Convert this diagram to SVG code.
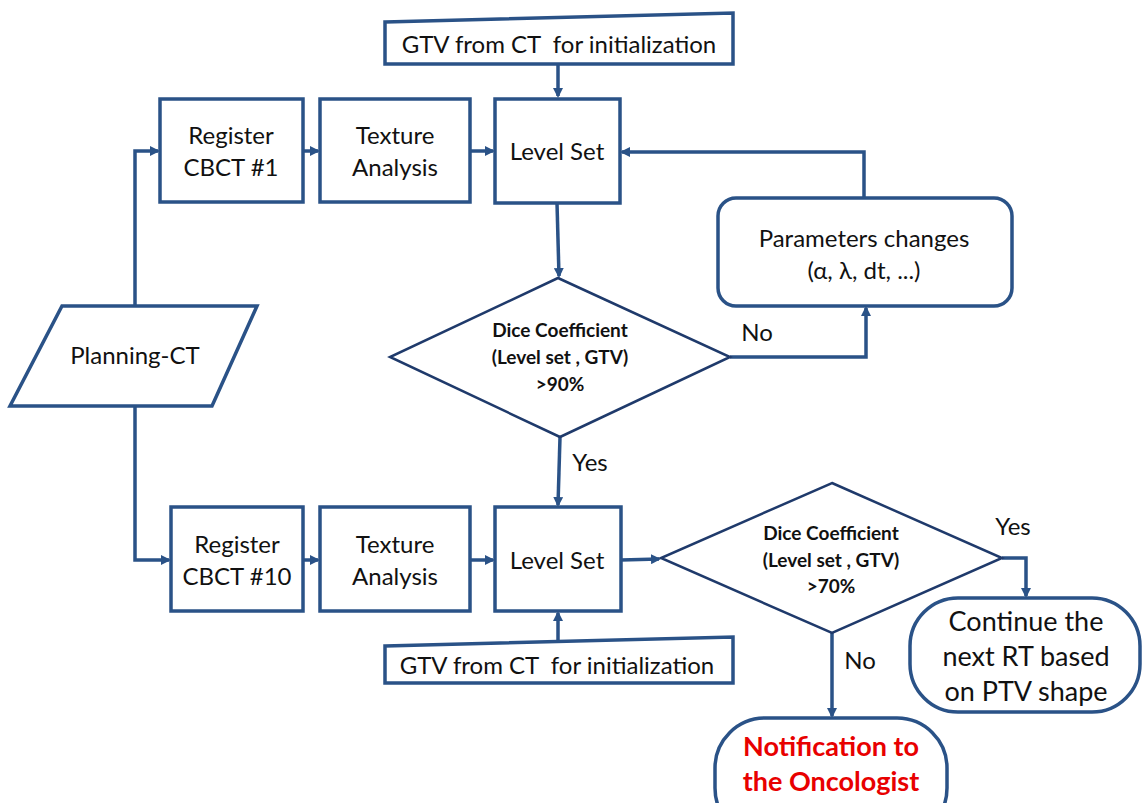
<svg xmlns="http://www.w3.org/2000/svg" width="1142" height="803" viewBox="0 0 1142 803">
<defs>
<style>
.box{fill:#fff;stroke:#2a5287;stroke-width:3.5}
.dia{fill:#fff;stroke:#1f3a6b;stroke-width:2.5}
.con{fill:none;stroke:#2a5287;stroke-width:3.5}
.t{font-family:Lato,"Open Sans",sans-serif;font-size:24px;fill:#111;text-anchor:middle;white-space:pre}
.d{font-family:Lato,"Open Sans",sans-serif;font-size:19px;font-weight:bold;fill:#111;text-anchor:middle}
.big{font-family:Lato,"Open Sans",sans-serif;font-size:27px;fill:#111;text-anchor:middle}
.red{font-family:Lato,"Open Sans",sans-serif;font-size:27px;font-weight:bold;fill:#e80000;text-anchor:middle}
</style>
<marker id="ah" markerWidth="10" markerHeight="10" refX="8" refY="5" orient="auto" markerUnits="userSpaceOnUse">
<path d="M0,0 L10,5 L0,10 z" fill="#2a5287"/>
</marker>
</defs>
<rect width="1142" height="803" fill="#fff"/>
<g id="connectors">
<path class="con" d="M558,65 L558,96" marker-end="url(#ah)"/>
<path class="con" d="M135,305 L135,151 L158,151" marker-end="url(#ah)"/>
<path class="con" d="M303,151 L318,151" marker-end="url(#ah)"/>
<path class="con" d="M470,151 L493,151" marker-end="url(#ah)"/>
<path class="con" d="M557,203 L559,276" marker-end="url(#ah)"/>
<path class="con" d="M730,357 L866,357 L866,308" marker-end="url(#ah)"/>
<path class="con" d="M864,198 L864,152 L622,152" marker-end="url(#ah)"/>
<path class="con" d="M560,437 L558,505" marker-end="url(#ah)"/>
<path class="con" d="M135,406 L135,560 L169,560" marker-end="url(#ah)"/>
<path class="con" d="M303,560 L318,560" marker-end="url(#ah)"/>
<path class="con" d="M470,560 L493,560" marker-end="url(#ah)"/>
<path class="con" d="M558,642 L558,613" marker-end="url(#ah)"/>
<path class="con" d="M621,560 L659,559" marker-end="url(#ah)"/>
<path class="con" d="M1002,558 L1026,558 L1026,596" marker-end="url(#ah)"/>
<path class="con" d="M832,633 L832,716" marker-end="url(#ah)"/>
<text class="t" x="757" y="341">No</text>
<text class="t" x="590" y="471">Yes</text>
<text class="t" x="1013" y="535">Yes</text>
<text class="t" x="860" y="669">No</text>
</g>
<g id="gtv-top">
<polygon class="box" points="385,22 733,13 733,64 385,64"/>
<text class="t" x="559" y="53" xml:space="preserve">GTV from CT  for initialization</text>
</g>
<g id="register1">
<rect class="box" x="160" y="99" width="143" height="103"/>
<text class="t" x="231" y="144">Register</text>
<text class="t" x="231" y="176">CBCT #1</text>
</g>
<g id="texture1">
<rect class="box" x="320" y="99" width="150" height="103"/>
<text class="t" x="395" y="144">Texture</text>
<text class="t" x="395" y="176">Analysis</text>
</g>
<g id="levelset1">
<rect class="box" x="495" y="99" width="125" height="104"/>
<text class="t" x="557" y="160">Level Set</text>
</g>
<g id="params">
<rect class="box" x="718" y="198" width="294" height="108" rx="18"/>
<text class="t" x="864" y="247">Parameters changes</text>
<text class="t" x="864" y="279">(α, λ, dt, ...)</text>
</g>
<g id="planning">
<polygon class="box" points="62,306 257,306 212,406 10,406"/>
<text class="t" x="135" y="364">Planning-CT</text>
</g>
<g id="dice1">
<polygon class="dia" points="558,278 730,357 560,437 390,357"/>
<text class="d" x="560" y="337">Dice Coefficient</text>
<text class="d" x="560" y="364">(Level set , GTV)</text>
<text class="d" x="560" y="391">&gt;90%</text>
</g>
<g id="register10">
<rect class="box" x="171" y="507" width="132" height="104"/>
<text class="t" x="237" y="553">Register</text>
<text class="t" x="237" y="585">CBCT #10</text>
</g>
<g id="texture10">
<rect class="box" x="320" y="507" width="150" height="104"/>
<text class="t" x="395" y="553">Texture</text>
<text class="t" x="395" y="585">Analysis</text>
</g>
<g id="levelset10">
<rect class="box" x="495" y="507" width="126" height="104"/>
<text class="t" x="557" y="569">Level Set</text>
</g>
<g id="gtv-bottom">
<polygon class="box" points="385,646 733,637 733,683 385,683"/>
<text class="t" x="557" y="674" xml:space="preserve">GTV from CT  for initialization</text>
</g>
<g id="dice2">
<polygon class="dia" points="832,483 1002,558 832,633 661,558"/>
<text class="d" x="831" y="540">Dice Coefficient</text>
<text class="d" x="831" y="567">(Level set , GTV)</text>
<text class="d" x="831" y="593">&gt;70%</text>
</g>
<g id="continue">
<rect class="box" x="910" y="598" width="230" height="114" rx="48"/>
<text class="big" x="1026" y="631">Continue the</text>
<text class="big" x="1026" y="666">next RT based</text>
<text class="big" x="1026" y="701">on PTV shape</text>
</g>
<g id="notify">
<rect class="box" x="715" y="718" width="232" height="120" rx="50"/>
<text class="red" x="831" y="756">Notification to</text>
<text class="red" x="831" y="791">the Oncologist</text>
</g>
</svg>
